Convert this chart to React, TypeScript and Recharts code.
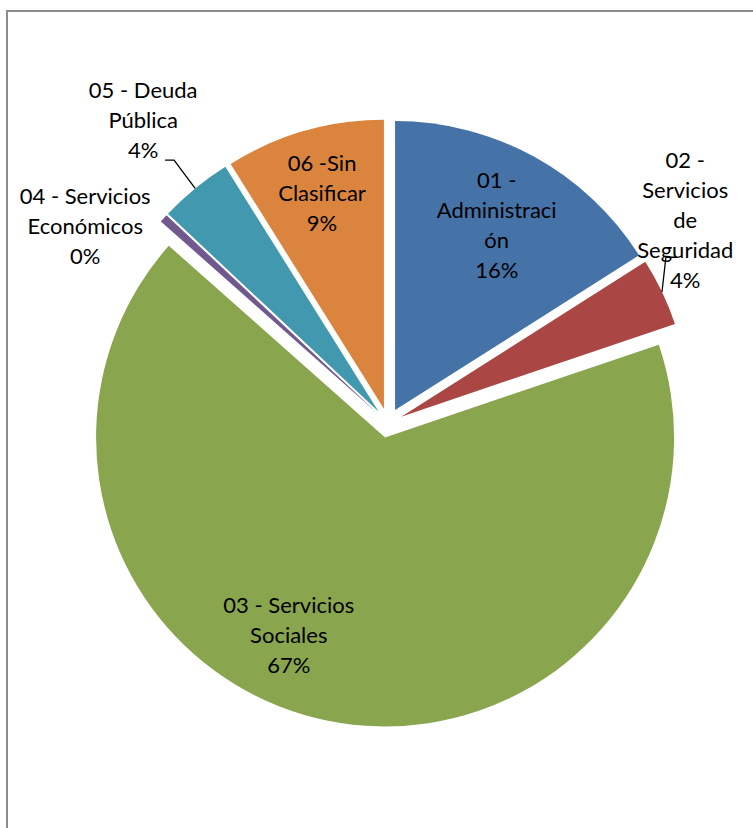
import React from "react";
import { PieChart, Pie, Cell } from "recharts";

const categories = [
  "01 - Administración",
  "02 - Servicios de Seguridad",
  "03 - Servicios Sociales",
  "04 - Servicios Económicos",
  "05 - Deuda Pública",
  "06 -Sin Clasificar",
];
const values = [16.0, 3.8, 66.74, 0.46, 4.1, 8.9];
const colors = ["#4572A7", "#AA4643", "#89A54E", "#71588F", "#4198AF", "#DB843D"];
const labelLines = [
  ["01 -", "Administraci", "ón"],
  ["02 -", "Servicios", "de", "Seguridad"],
  ["03 - Servicios", "Sociales"],
  ["04 - Servicios", "Económicos"],
  ["05 - Deuda", "Pública"],
  ["06 -Sin", "Clasificar"],
];

const data = categories.map((name, i) => ({ name, value: values[i] }));
const total = values.reduce((a, b) => a + b, 0);

// layout (styling, not data)
const W = 753;
const H = 828;
const CX = 388;
const CY = 423;
const R = 289;
const EXPLODE = 14.7;
const FS = 22;
const LH = 30;
const labelLayout = [
  { shift: 0, k: 0.73 },
  { shift: -9.2, k: 1.196, leader: { shift: -5.5, k: 1.069, tail: 11 } },
  { shift: 14.6, k: 0.76 },
  { shift: -9.7, k: 1.2 },
  { shift: 0.5, k: 1.297, leader: { shift: 0.3, k: 1.122, tail: -9 } },
  { shift: 0, k: 0.776 },
];

const rad = (d: number) => (d * Math.PI) / 180;

// clockwise-from-top mid angle of each slice, from the data
const midAngles: number[] = [];
{
  let acc = 0;
  values.forEach((v) => {
    const span = (v / total) * 360;
    midAngles.push(acc + span / 2);
    acc += span;
  });
}

const makeLabel = (idx: number) => (props: any) => {
  if (props.index !== idx) return <g />;
  const theta = 90 - props.midAngle;
  const cx = props.cx;
  const cy = props.cy;
  const r = props.outerRadius;
  const lay = labelLayout[idx];
  const a = rad(theta + lay.shift);
  const x = cx + r * lay.k * Math.sin(a);
  const yMid = cy - r * lay.k * Math.cos(a);
  const pct = Math.round((props.value / total) * 100) + "%";
  const lines = [...labelLines[idx], pct];
  const n = lines.length;
  const firstCenter = yMid - ((n - 1) / 2) * LH;
  let leader = null;
  if (lay.leader) {
    const t = rad(theta);
    const sx = cx + r * Math.sin(t);
    const sy = cy - r * Math.cos(t);
    const ea = rad(theta + lay.leader.shift);
    const ex = cx + r * lay.leader.k * Math.sin(ea);
    const ey = cy - r * lay.leader.k * Math.cos(ea);
    leader = (
      <polyline
        points={`${sx},${sy} ${ex},${ey} ${ex + lay.leader.tail},${ey}`}
        fill="none"
        stroke="#000"
        strokeWidth={1.3}
      />
    );
  }
  return (
    <g>
      {leader}
      {lines.map((ln, j) => (
        <text
          key={j}
          x={x}
          y={firstCenter + j * LH + 0.36 * FS}
          textAnchor="middle"
          fontFamily="Lato, 'Open Sans', sans-serif"
          fontSize={FS}
          fill="#000"
        >
          {ln}
        </text>
      ))}
    </g>
  );
};

export default function App() {
  return (
    <div style={{ position: "absolute", left: 0, top: 0, width: W, height: H, background: "#fff", overflow: "hidden" }}>
      <div
        style={{
          position: "absolute",
          left: 6,
          top: 10,
          width: 900,
          height: 900,
          borderTop: "2px solid #8c8c8c",
          borderLeft: "2px solid #8c8c8c",
        }}
      />
      <div style={{ position: "absolute", left: 0, top: 0 }}>
        <PieChart width={W} height={H} margin={{ top: 0, right: 0, bottom: 0, left: 0 }}>
          {data.map((_, i) => {
            const m = rad(midAngles[i]);
            const pcx = CX + EXPLODE * Math.sin(m);
            const pcy = CY - EXPLODE * Math.cos(m);
            return (
              <Pie
                key={i}
                data={data}
                dataKey="value"
                nameKey="name"
                cx={pcx}
                cy={pcy}
                outerRadius={R}
                innerRadius={0}
                startAngle={90}
                endAngle={-270}
                stroke="none"
                isAnimationActive={false}
                labelLine={false}
                label={makeLabel(i)}
              >
                {data.map((__, j) => (
                  <Cell key={j} fill={j === i ? colors[i] : "transparent"} stroke="none" />
                ))}
              </Pie>
            );
          })}
        </PieChart>
      </div>
    </div>
  );
}
